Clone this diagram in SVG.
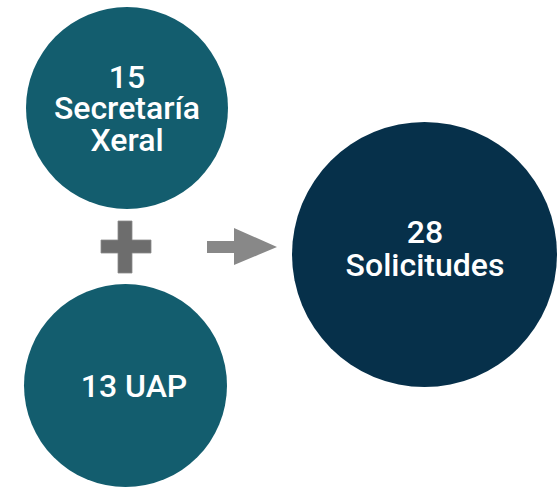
<svg xmlns="http://www.w3.org/2000/svg" width="557" height="496" viewBox="0 0 557 496">
<style>
.small{fill:#135d6e}
.big{fill:#06304a}
text{font-family:Roboto,"Liberation Sans",sans-serif;font-weight:500;font-size:32px;fill:#ffffff;text-anchor:middle}
</style>
<rect width="557" height="496" fill="#ffffff"/>
<g id="node-secretaria">
<circle class="small" cx="127" cy="108" r="101"/>
<text x="127" y="88">15</text>
<text x="127" y="119">Secretaría</text>
<text x="127" y="151">Xeral</text>
</g>
<g id="node-uap">
<circle class="small" cx="125.5" cy="385.5" r="101.5"/>
<text x="134" y="397">13 UAP</text>
</g>
<g id="node-solicitudes">
<circle class="big" cx="424.5" cy="254.5" r="132.5"/>
<text x="425" y="243">28</text>
<text x="425" y="276">Solicitudes</text>
</g>
<g id="connectors">
<path d="M118,221H132V240H151V253H132V273H118V253H101V240H118Z" fill="#6d6d6d" stroke="#8a8a8a" stroke-width="0.8"/>
<path d="M207,241H234V228L277,247L234,265V253H207Z" fill="#888888"/>
</g>
</svg>
